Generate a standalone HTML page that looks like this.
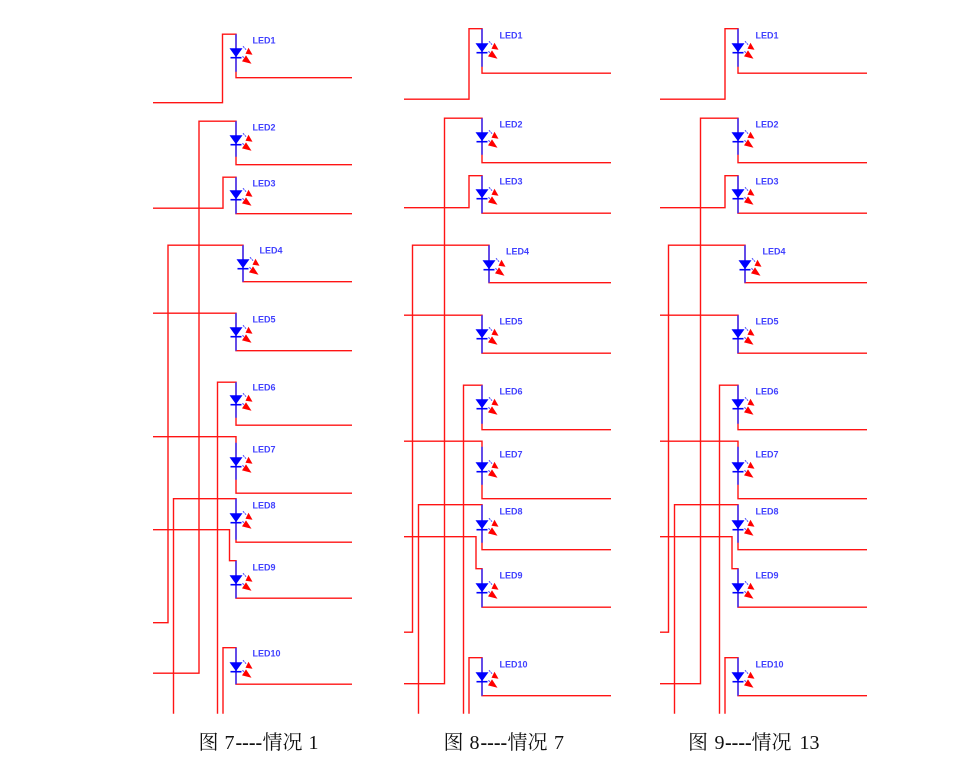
<!DOCTYPE html>
<html lang="zh">
<head>
<meta charset="utf-8">
<title>LED</title>
<style>
html,body{margin:0;padding:0;background:#fff;width:960px;height:760px;overflow:hidden}
svg{display:block}
.w{filter:blur(.3px)}
.r{fill:none;stroke:#ff1414;stroke-width:1.4}
.b{fill:none;stroke:#3030ff;stroke-width:1.5}
.l{font:bold 9px "Liberation Sans",sans-serif;fill:#4040ff}
.c{font:20px "Liberation Serif","Noto Serif CJK SC",serif;fill:#111}
.c .h{font-weight:bold}
</style>
</head>
<body>
<svg width="960" height="760" viewBox="0 0 960 760" xmlns="http://www.w3.org/2000/svg">
<defs>
<g id="d">
<path d="M-6.500-4.500H6.500L0 4.500Z" fill="#0000ff"/>
<path d="M-5.500 5H5.500" stroke="#0000ff" stroke-width="1.6"/>
<path d="M7-6.500L10-3M6.500 3.500L8.500 6" stroke="#5050ff" stroke-width="1.1" stroke-dasharray="2 .8" fill="none"/>
<path d="M12.500-5L16.500 2 9.500 1Z" fill="#ff0000"/>
<path d="M10 2.700L15.500 11 6 8.700Z" fill="#ff0000"/>
</g>
</defs>

<g class="w" transform="translate(-.5 -.3)">
<!-- Panel 1 -->
<g class="r">
<path d="M153.500 103H223V34.500H236.500V78H352.500"/>
<path d="M153.500 673.500H199.500V121.500H236.500V165H352.500"/>
<path d="M153.500 208.500H223.500V177.500H236.500V214H352.500"/>
<path d="M153.500 623H168.500V245.500H243.500V282H352.500"/>
<path d="M153.500 313.500H236.500V351H352.500"/>
<path d="M218 714V382.500H236.500V425.500H352.500"/>
<path d="M153.500 437H236.500V493.500H352.500"/>
<path d="M174 714V499H236.500V542.500H352.500"/>
<path d="M153.500 530H230V561H236.500V598.500H352.500"/>
<path d="M223.500 714V648H236.500V684.500H352.500"/>
</g>
<g class="b">
<path d="M236.500 34.500V72M236.500 121.500V157M236.500 177.500V214M243.500 245.500V282M236.500 313.500V351M236.500 382.500V418M236.500 443V480M236.500 499V540M236.500 561V598.500M236.500 648V684.500"/>
</g>
<use href="#d" x="236.500" y="53"/><use href="#d" x="236.500" y="140"/><use href="#d" x="236.500" y="195"/><use href="#d" x="243.500" y="264"/><use href="#d" x="236.500" y="332"/><use href="#d" x="236.500" y="400"/><use href="#d" x="236.500" y="462"/><use href="#d" x="236.500" y="518"/><use href="#d" x="236.500" y="580"/><use href="#d" x="236.500" y="667"/>
<g class="l">
<text x="253" y="44">LED1</text><text x="253" y="131">LED2</text><text x="253" y="187">LED3</text><text x="260" y="254">LED4</text><text x="253" y="323">LED5</text><text x="253" y="391">LED6</text><text x="253" y="453">LED7</text><text x="253" y="509">LED8</text><text x="253" y="571">LED9</text><text x="253" y="657">LED10</text>
</g>

<!-- Panel 2 -->
<g class="r">
<path d="M404.500 99.500H469.500V29H482.500V73.500H611.500"/>
<path d="M404.500 684H445V118.500H482.500V163H611.500"/>
<path d="M404.500 208H469.500V176H482.500V213.500H611.500"/>
<path d="M404.500 632.500H413V245.500H489.500V283H611.500"/>
<path d="M404.500 315.500H482.500V353.500H611.500"/>
<path d="M464 714V385.500H482.500V430H611.500"/>
<path d="M404.500 441.500H482.500V499H611.500"/>
<path d="M419 714V505H482.500V550H611.500"/>
<path d="M404.500 537H476.500V569H482.500V607.500H611.500"/>
<path d="M469.500 714V658H482.500V696H611.500"/>
</g>
<g class="b">
<path d="M482.500 29V67M482.500 118.500V155M482.500 176V213.500M489.500 245.500V283M482.500 315.500V353.500M482.500 385.500V424M482.500 447V485M482.500 505V543M482.500 569V607.500M482.500 658V696"/>
</g>
<use href="#d" x="482.500" y="48"/><use href="#d" x="482.500" y="137"/><use href="#d" x="482.500" y="194"/><use href="#d" x="489.500" y="265"/><use href="#d" x="482.500" y="334"/><use href="#d" x="482.500" y="404"/><use href="#d" x="482.500" y="467"/><use href="#d" x="482.500" y="525"/><use href="#d" x="482.500" y="588"/><use href="#d" x="482.500" y="677"/>
<g class="l">
<text x="500" y="39">LED1</text><text x="500" y="128">LED2</text><text x="500" y="185">LED3</text><text x="506.500" y="255">LED4</text><text x="500" y="325">LED5</text><text x="500" y="395">LED6</text><text x="500" y="458">LED7</text><text x="500" y="515">LED8</text><text x="500" y="579">LED9</text><text x="500" y="668">LED10</text>
</g>

<!-- Panel 3 -->
<g class="r">
<path d="M660.500 99.500H725.500V29H738.500V73.500H867.500"/>
<path d="M660.500 684H701V118.500H738.500V163H867.500"/>
<path d="M660.500 208H725.500V176H738.500V213.500H867.500"/>
<path d="M660.500 632.500H669V245.500H745.500V283H867.500"/>
<path d="M660.500 315.500H738.500V353.500H867.500"/>
<path d="M720 714V385.500H738.500V430H867.500"/>
<path d="M660.500 441.500H738.500V499H867.500"/>
<path d="M675 714V505H738.500V550H867.500"/>
<path d="M660.500 537H732.500V569H738.500V607.500H867.500"/>
<path d="M725.500 714V658H738.500V696H867.500"/>
</g>
<g class="b">
<path d="M738.500 29V67M738.500 118.500V155M738.500 176V213.500M745.500 245.500V283M738.500 315.500V353.500M738.500 385.500V424M738.500 447V485M738.500 505V543M738.500 569V607.500M738.500 658V696"/>
</g>
<use href="#d" x="738.500" y="48"/><use href="#d" x="738.500" y="137"/><use href="#d" x="738.500" y="194"/><use href="#d" x="745.500" y="265"/><use href="#d" x="738.500" y="334"/><use href="#d" x="738.500" y="404"/><use href="#d" x="738.500" y="467"/><use href="#d" x="738.500" y="525"/><use href="#d" x="738.500" y="588"/><use href="#d" x="738.500" y="677"/>
<g class="l">
<text x="756" y="39">LED1</text><text x="756" y="128">LED2</text><text x="756" y="185">LED3</text><text x="763" y="255">LED4</text><text x="756" y="325">LED5</text><text x="756" y="395">LED6</text><text x="756" y="458">LED7</text><text x="756" y="515">LED8</text><text x="756" y="579">LED9</text><text x="756" y="668">LED10</text>
</g>
</g>

<!-- Captions -->
<text class="c" y="749"><tspan x="198.500">图</tspan><tspan x="224.500">7</tspan><tspan class="h" x="235.500">----</tspan><tspan x="262.500">情况</tspan><tspan x="308.500">1</tspan></text>
<text class="c" y="749"><tspan x="443.500">图</tspan><tspan x="469.500">8</tspan><tspan class="h" x="480.500">----</tspan><tspan x="507.500">情况</tspan><tspan x="554">7</tspan></text>
<text class="c" y="749"><tspan x="688">图</tspan><tspan x="714.500">9</tspan><tspan class="h" x="725">----</tspan><tspan x="751.500">情况</tspan><tspan x="799.500">13</tspan></text>
</svg>
</body>
</html>
